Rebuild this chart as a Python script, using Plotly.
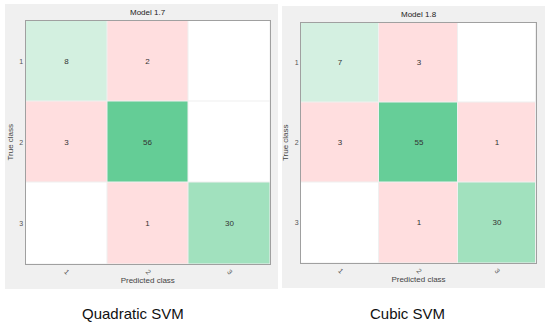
import plotly.graph_objects as go

classes = [1, 2, 3]
titles = ["Model 1.7", "Model 1.8"]
captions = ["Quadratic SVM", "Cubic SVM"]
cm_quadratic = [[8, 2, 0],
                [3, 56, 0],
                [0, 1, 30]]
cm_cubic = [[7, 3, 0],
            [3, 55, 1],
            [0, 1, 30]]
matrices = [cm_quadratic, cm_cubic]

green_scale = [[0.0, "rgb(222,244,232)"], [0.14, "rgb(211,240,224)"],
               [0.54, "rgb(160,225,190)"], [1.0, "rgb(100,205,150)"]]
pink_scale = [[0.0, "#ffffff"], [0.5, "#ffffff"], [0.5, "rgb(255,222,223)"], [1.0, "rgb(255,222,223)"]]

fig = go.Figure()

domains_x = [(25.5 / 550, 270 / 550), (301 / 550, 536 / 550)]
domains_y = [((322 - 264) / 322, (322 - 20.5) / 322), ((322 - 263) / 322, (322 - 22.5) / 322)]
panels = [(5, 278, 4, 289), (282, 545, 6, 288)]
caption_x = [133, 407]
max_all = max(max(r) for m in matrices for r in m)
tfont = dict(size=8, color="#333333", family="Liberation Sans")

layout_axes = {}
for k, m in enumerate(matrices):
    xa = "x" if k == 0 else "x2"
    ya = "y" if k == 0 else "y2"
    diag = [[m[i][j] if i == j else None for j in range(3)] for i in range(3)]
    off = [[m[i][j] if i != j else None for j in range(3)] for i in range(3)]
    text_off = [[str(m[i][j]) if (i != j and m[i][j] != 0) else "" for j in range(3)] for i in range(3)]
    text_diag = [[str(m[i][j]) if (i == j and m[i][j] != 0) else "" for j in range(3)] for i in range(3)]
    fig.add_trace(go.Heatmap(x=classes, y=classes, z=off, colorscale=pink_scale, zmin=0, zmax=1,
                             showscale=False, xgap=1, ygap=1, xaxis=xa, yaxis=ya,
                             text=text_off, texttemplate="%{text}", hoverinfo="skip", textfont=tfont))
    fig.add_trace(go.Heatmap(x=classes, y=classes, z=diag, colorscale=green_scale, zmin=0, zmax=max_all,
                             showscale=False, xgap=1, ygap=1, xaxis=xa, yaxis=ya,
                             text=text_diag, texttemplate="%{text}", hoverinfo="skip", textfont=tfont))
    sfx = "" if k == 0 else "2"
    layout_axes["xaxis" + sfx] = dict(domain=domains_x[k], anchor=ya, range=[0.5, 3.5],
                                      tickvals=classes, ticktext=[str(c) for c in classes],
                                      tickangle=45, tickfont=dict(size=7, color="#555555"),
                                      showgrid=False, zeroline=False, ticks="",
                                      showline=True, mirror=True, linecolor="#a0a0a0", linewidth=1,
                                      title=dict(text="Predicted class", font=dict(size=8, color="#444444"), standoff=2))
    layout_axes["yaxis" + sfx] = dict(domain=domains_y[k], anchor=xa, range=[3.5, 0.5],
                                      tickvals=classes, ticktext=[str(c) for c in classes],
                                      tickfont=dict(size=7, color="#555555"),
                                      showgrid=False, zeroline=False, ticks="",
                                      showline=True, mirror=True, linecolor="#a0a0a0", linewidth=1,
                                      title=dict(text="True class", font=dict(size=8, color="#444444"), standoff=4))

shapes = []
for (x0, x1, y0, y1) in panels:
    shapes.append(dict(type="rect", xref="paper", yref="paper", layer="below",
                       x0=x0 / 550, x1=x1 / 550, y0=1 - y1 / 322, y1=1 - y0 / 322,
                       fillcolor="#f0f0f0", line=dict(width=0)))

annotations = []
for k in range(2):
    cx = (domains_x[k][0] + domains_x[k][1]) / 2
    annotations.append(dict(text=titles[k], x=cx, y=domains_y[k][1], xref="paper", yref="paper",
                            xanchor="center", yanchor="bottom", yshift=1, showarrow=False,
                            font=dict(size=8, color="#222222", family="Liberation Sans")))
    annotations.append(dict(text=captions[k], x=caption_x[k] / 550, y=1 - 313 / 322,
                            xref="paper", yref="paper", xanchor="center", yanchor="middle", showarrow=False,
                            font=dict(size=15, color="#111111", family="Liberation Sans")))

fig.update_layout(width=550, height=322, margin=dict(l=0, r=0, t=0, b=0),
                  paper_bgcolor="white", plot_bgcolor="#b4b4b4",
                  font=dict(family="Liberation Sans"),
                  shapes=shapes, annotations=annotations, showlegend=False, **layout_axes)

fig.write_html("out.html", config={"displayModeBar": False},
               post_script="document.body.style.margin='0';document.body.style.overflow='hidden';")
